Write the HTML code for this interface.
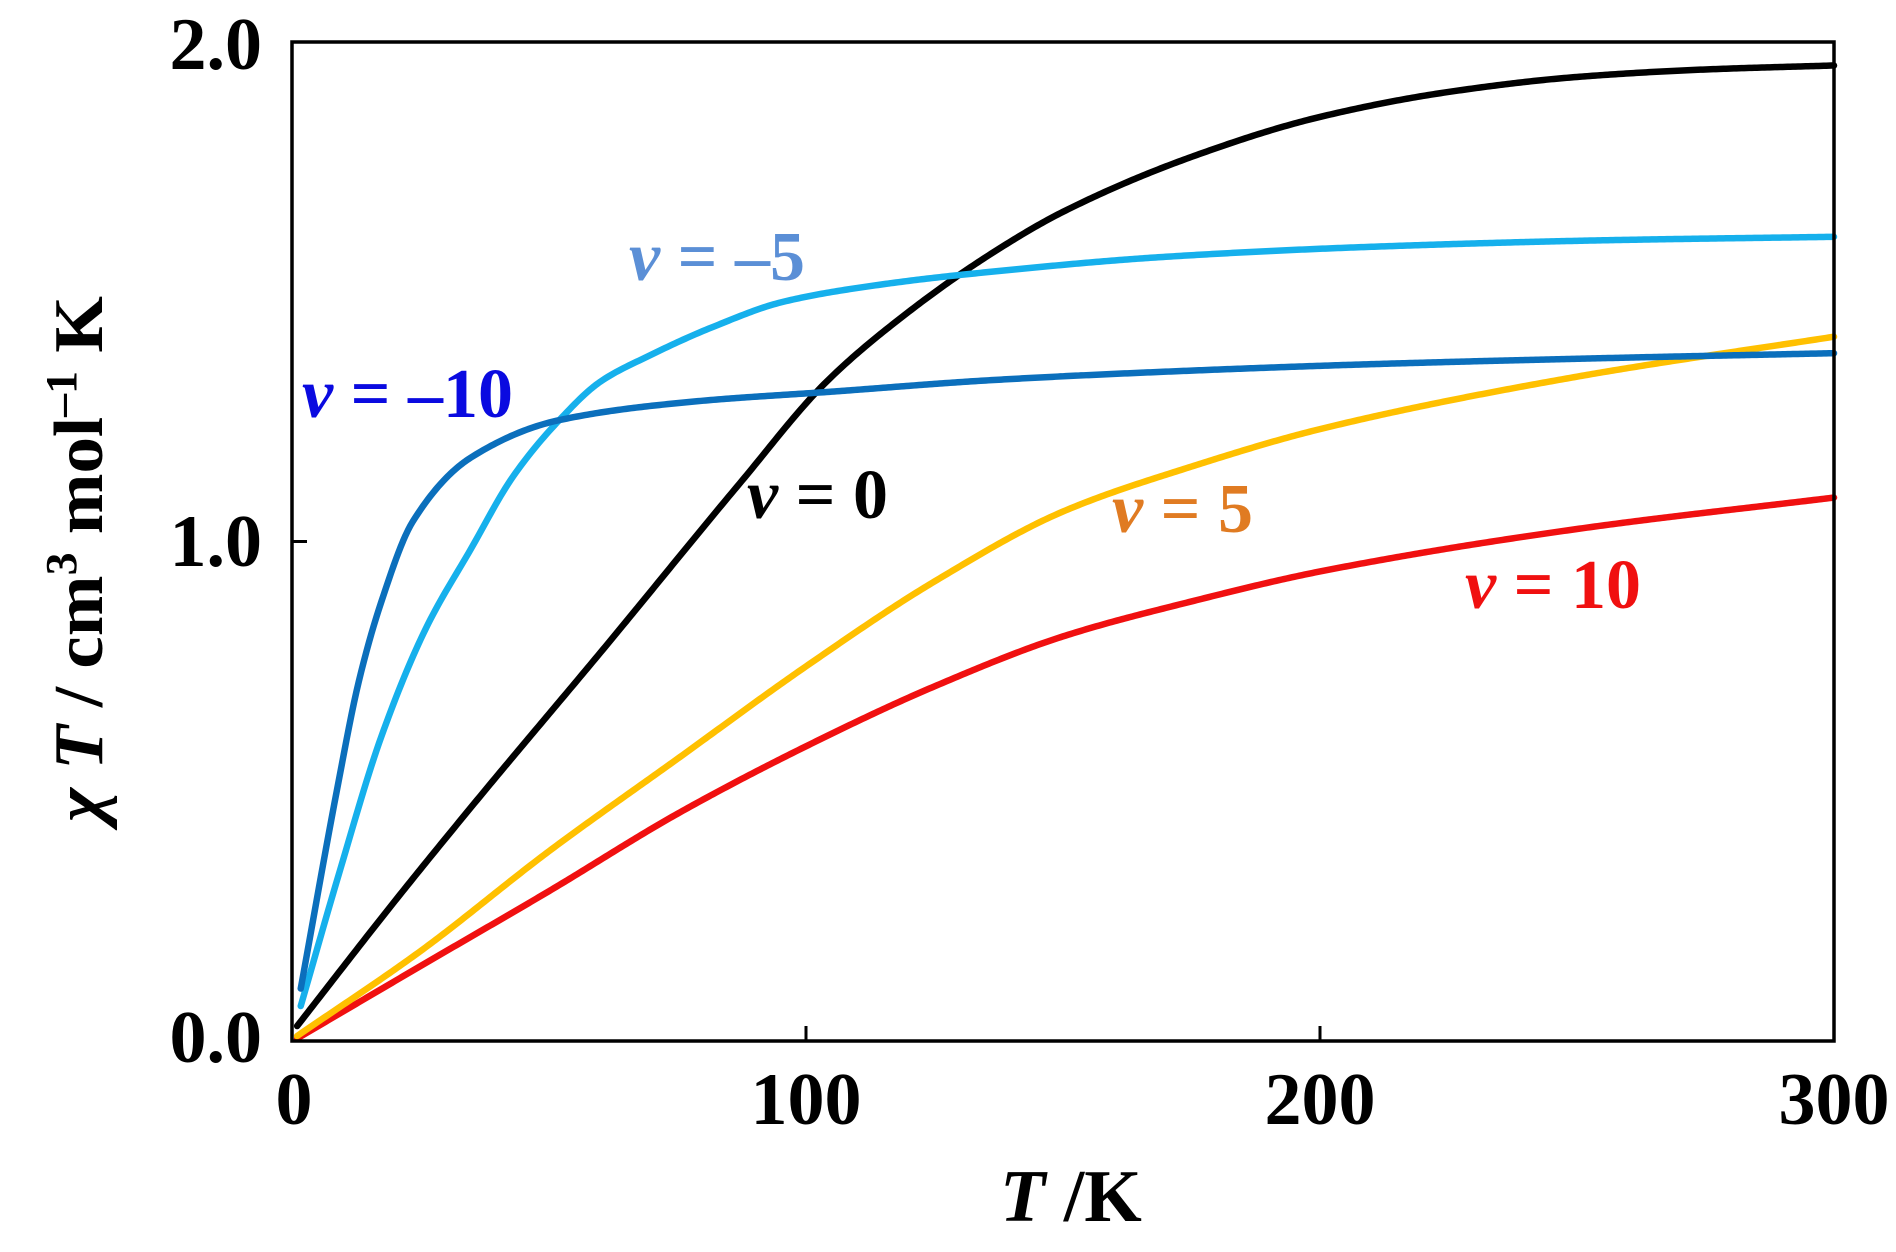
<!DOCTYPE html>
<html><head><meta charset="utf-8"><style>
html,body{margin:0;padding:0;background:#fff;}
svg{display:block;}
text{font-family:"Liberation Serif","Times New Roman",Times,serif;font-weight:bold;}
</style></head><body>
<svg id="s" width="1896" height="1252" viewBox="0 0 1896 1252" xmlns="http://www.w3.org/2000/svg">
<rect width="1896" height="1252" fill="#fff"/>
<g id="curves" fill="none" stroke-width="6.5" stroke-linecap="round" stroke-linejoin="round"></g>
<rect x="292" y="42" width="1542" height="999" fill="none" stroke="#000" stroke-width="3.5"/>
<g stroke="#000" stroke-width="3">
<line x1="292" y1="541.5" x2="307" y2="541.5"/>
<line x1="806" y1="1041" x2="806" y2="1026"/>
<line x1="1320" y1="1041" x2="1320" y2="1026"/>
</g>
<g font-size="74" fill="#000" font-family="Liberation Serif, serif" font-weight="bold">
<text x="262" y="69" text-anchor="end">2.0</text>
<text x="262" y="566" text-anchor="end">1.0</text>
<text x="262" y="1062" text-anchor="end">0.0</text>
<text x="294" y="1124" text-anchor="middle">0</text>
<text x="806" y="1124" text-anchor="middle">100</text>
<text x="1320" y="1124" text-anchor="middle">200</text>
<text x="1834" y="1124" text-anchor="middle">300</text>
<text x="1000" y="1221"><tspan font-style="italic">T</tspan> /K</text>
</g>
<text transform="translate(102,559) rotate(-90)" text-anchor="middle" font-size="70" fill="#000" font-family="Liberation Serif, serif" font-weight="bold" textLength="526" lengthAdjust="spacingAndGlyphs"><tspan font-style="italic">χ T</tspan> / cm<tspan font-size="44" dy="-26">3</tspan><tspan dy="26"> mol</tspan><tspan font-size="44" dy="-26">–1</tspan><tspan dy="26"> K</tspan></text>
<g font-size="70" font-family="Liberation Serif, serif" font-weight="bold">
<text x="629" y="280" fill="#5b8fd6"><tspan font-style="italic">v</tspan> = –5</text>
<text x="302" y="417" fill="#0a0ae0"><tspan font-style="italic">v</tspan> = –10</text>
<text x="747" y="518" fill="#000"><tspan font-style="italic">v</tspan> = 0</text>
<text x="1112" y="532" fill="#e07b22"><tspan font-style="italic">v</tspan> = 5</text>
<text x="1465" y="608" fill="#f01010"><tspan font-style="italic">v</tspan> = 10</text>
</g>
</svg>
<script>
var X=function(t){return 292+t*5.14;},Y=function(v){return 1041-v*499.5;};
var series=[
["#f01010",[[1,0.005],[25,0.15],[50,0.3],[75,0.455],[100,0.59],[125,0.71],[150,0.81],[175,0.88],[200,0.94],[250,1.025],[300,1.088]]],
["#ffc000",[[1,0.01],[25,0.18],[50,0.38],[75,0.565],[100,0.75],[125,0.92],[150,1.06],[175,1.15],[200,1.225],[250,1.33],[300,1.41]]],
["#000000",[[1,0.03],[20,0.28],[35,0.47],[61,0.79],[87,1.115],[104,1.32],[120,1.46],[136,1.576],[150,1.66],[175,1.77],[200,1.85],[225,1.9],[250,1.93],[275,1.945],[300,1.953]]],
["#16b0ec",[[1.7,0.07],[9,0.33],[17.4,0.61],[26,0.825],[34.8,0.985],[43,1.13],[52,1.243],[60,1.32],[69.5,1.372],[82,1.43],[95.6,1.48],[115,1.515],[136,1.54],[170,1.57],[210,1.59],[255,1.603],[300,1.61]]],
["#0b6fbc",[[1.7,0.105],[8.7,0.5],[13,0.72],[17.4,0.88],[23.5,1.04],[34.8,1.168],[52,1.243],[78,1.28],[105,1.3],[136,1.323],[170,1.34],[210,1.355],[255,1.367],[300,1.377]]]
];
function interp(pts){
 var n=pts.length,x=pts.map(function(p){return p[0];}),y=pts.map(function(p){return p[1];});
 var d=[],m=[];
 for(var i=0;i<n-1;i++)d.push((y[i+1]-y[i])/(x[i+1]-x[i]));
 m[0]=d[0];m[n-1]=d[n-2];
 for(i=1;i<n-1;i++){
  if(d[i-1]*d[i]<=0)m[i]=0;else{
   var h0=x[i]-x[i-1],h1=x[i+1]-x[i];
   var w1=2*h1+h0,w2=h1+2*h0;
   m[i]=(w1+w2)/(w1/d[i-1]+w2/d[i]);
  }
 }
 var out=[];
 for(i=0;i<n-1;i++){
  var h=x[i+1]-x[i],steps=Math.max(4,Math.ceil(h*2));
  for(var k=0;k<steps;k++){
   var t=k/steps,t2=t*t,t3=t2*t;
   var v=(2*t3-3*t2+1)*y[i]+(t3-2*t2+t)*h*m[i]+(-2*t3+3*t2)*y[i+1]+(t3-t2)*h*m[i+1];
   out.push([x[i]+t*h,v]);
  }
 }
 out.push([x[n-1],y[n-1]]);
 return out;
}
var g=document.getElementById('curves');
series.forEach(function(s){
 var p=interp(s[1]);
 var d='M'+p.map(function(a){return X(a[0]).toFixed(2)+','+Y(a[1]).toFixed(2);}).join('L');
 var e=document.createElementNS('http://www.w3.org/2000/svg','path');
 e.setAttribute('d',d);e.setAttribute('stroke',s[0]);g.appendChild(e);
});
</script>
</body></html>
